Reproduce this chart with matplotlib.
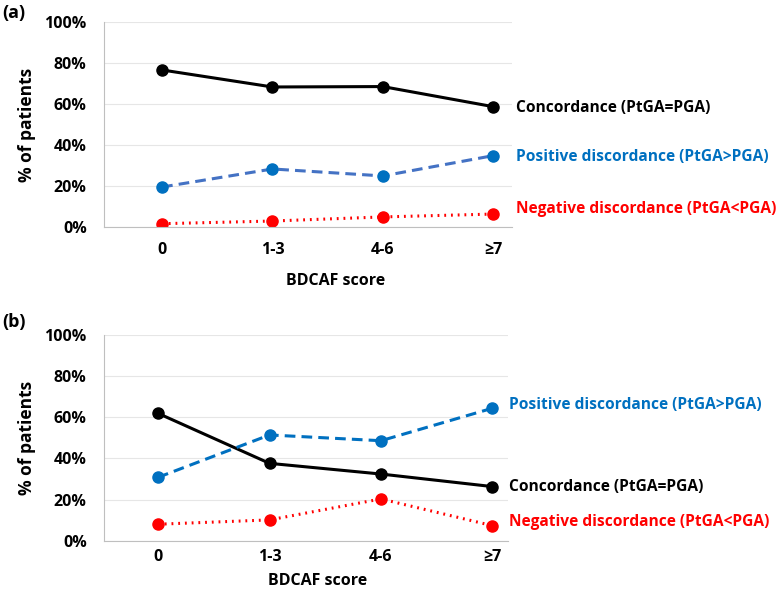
import matplotlib.pyplot as plt
from matplotlib.ticker import PercentFormatter

plt.rcParams['font.family'] = ['Open Sans', 'DejaVu Sans']
plt.rcParams['font.weight'] = 'bold'
plt.rcParams['axes.labelweight'] = 'bold'

categories = ['0', '1-3', '4-6', '≥7']

# panel (a), % of patients
conc_a = [76.6, 68.3, 68.5, 58.7]
pos_a = [19.5, 28.3, 24.9, 34.8]
neg_a = [1.6, 2.9, 4.9, 6.3]

# panel (b)
conc_b = [61.9, 37.6, 32.4, 26.3]
pos_b = [30.8, 51.4, 48.6, 64.4]
neg_b = [8.0, 10.1, 20.3, 7.3]

lab_conc = 'Concordance (PtGA=PGA)'
lab_pos = 'Positive discordance (PtGA>PGA)'
lab_neg = 'Negative discordance (PtGA<PGA)'

fig = plt.figure(figsize=(7.78, 5.90), dpi=100)
ax_a = fig.add_axes([0.1337, 0.6153, 0.5243, 0.3474])
ax_b = fig.add_axes([0.1337, 0.0836, 0.5193, 0.3486])


def draw(ax, conc, pos, neg, pos_line, xlim, lab_dx, lab_off, xpad):
    x = range(len(categories))
    ax.plot(x, conc, color='black', lw=2.2, marker='o', ms=8, mfc='black', mec='black')
    ax.plot(x, pos, color=pos_line, lw=2.2, ls=(0, (3.5, 2)), marker='o', ms=8,
            mfc='#0070C0', mec='#0070C0')
    ax.plot(x, neg, color='#FF0000', lw=2.2, ls=(0, (0.6, 1.6)), marker='o', ms=8,
            mfc='#FF0000', mec='#FF0000')
    ax.set_ylim(0, 100)
    ax.set_xlim(*xlim)
    ax.set_yticks([0, 20, 40, 60, 80, 100])
    ax.yaxis.set_major_formatter(PercentFormatter(decimals=0))
    ax.set_xticks(list(x))
    ax.set_xticklabels(categories)
    ax.grid(axis='y', color='#e6e6e6', lw=0.8)
    ax.set_axisbelow(True)
    for s in ['top', 'right']:
        ax.spines[s].set_visible(False)
    ax.spines['left'].set_color('#bfbfbf')
    ax.spines['bottom'].set_color('#bfbfbf')
    ax.tick_params(length=0, labelsize=11.5, pad=12.5)
    ax.tick_params(axis='x', pad=xpad)
    ax.set_ylabel('% of patients', fontsize=12.5)
    # series labels at right end
    for vals, lab, col, dy in [(conc, lab_conc, 'black', lab_off[0]),
                               (pos, lab_pos, '#0070C0', lab_off[1]),
                               (neg, lab_neg, '#FF0000', lab_off[2])]:
        ax.annotate(lab, xy=(3, vals[-1]), xytext=(lab_dx, dy), textcoords='offset points',
                    color=col, fontsize=11.2, fontweight='bold', va='center', ha='left',
                    annotation_clip=False)


draw(ax_a, conc_a, pos_a, neg_a, '#4472C4', (-0.526, 3.17), 16.5, (-1, -1, 3.6), 11)
ax_a.set_xlabel('BDCAF score', fontsize=11.5)
ax_a.xaxis.set_label_coords(0.569, -0.225)
ax_a.yaxis.set_label_coords(-0.167, 0.5)

draw(ax_b, conc_b, pos_b, neg_b, '#0070C0', (-0.485, 3.14), 12, (0, 2, 2.7), 6)
ax_b.set_xlabel('BDCAF score', fontsize=11.5)
ax_b.xaxis.set_label_coords(0.528, -0.155)
ax_b.yaxis.set_label_coords(-0.169, 0.5)

fig.text(0.003, 0.978, '(a)', fontsize=13, fontweight='bold', va='center')
fig.text(0.003, 0.455, '(b)', fontsize=13, fontweight='bold', va='center')

fig.savefig('out.png', dpi=100)
